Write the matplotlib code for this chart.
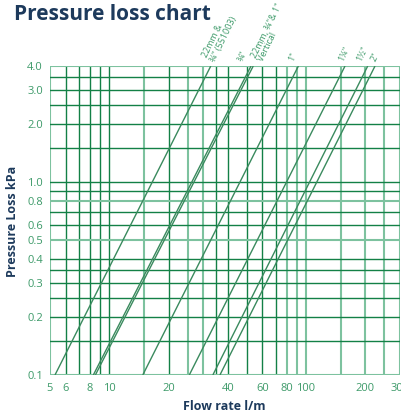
import matplotlib
matplotlib.use('Agg')
import matplotlib.pyplot as plt
import matplotlib.transforms as mtrans
from matplotlib.ticker import FixedLocator, FixedFormatter, NullLocator

# ---- data ----
series_labels = ['22mm &\n¾" (551003)', '¾"', '22mm, ¾"& 1"\nVertical',
                 '1"', '1¼"', '1½"', '2"']
flow_at_low = [5.3, 8.3, 8.5, 14.8, 25.5, 33.6, 36.5]          # l/m at 0.1 kPa
flow_at_high = [32.8, 52.5, 53.9, 91.4, 157.7, 205.7, 224.0]   # l/m at 4.0 kPa
pressure_ends = [0.1, 4.0]

x_ticks = [5, 6, 8, 10, 20, 40, 60, 80, 100, 200, 300]
x_tick_labels = ['5', '6', '8', '10', '20', '40', '60', '80', '100', '200', '300']
y_ticks = [0.1, 0.2, 0.3, 0.4, 0.5, 0.6, 0.8, 1.0, 2.0, 3.0, 4.0]
y_tick_labels = ['0.1', '0.2', '0.3', '0.4', '0.5', '0.6', '0.8', '1.0', '2.0', '3.0', '4.0']

x_grid_dark = [6, 7, 8, 9, 10, 20, 35, 40, 50, 60, 70]
x_grid_light = [5, 15, 25, 30, 80, 90, 100, 150, 200, 250, 300]
y_grid_dark = [0.15, 0.2, 0.25, 0.3, 0.35, 0.4, 0.6, 0.7, 0.9, 1.0, 1.5, 2.0, 2.5, 3.0, 3.5]
y_grid_light = [0.1, 0.5, 0.8, 4.0]

# ---- style ----
NAVY = '#1d3a5c'
TICK_GREEN = '#3d9a69'
GRID_DARK = '#138046'
GRID_LIGHT = '#7dc29f'
LINE_COL = '#3a8a5e'
label_dx_px = [6, -6, 12, -3, 0, -5, 2]

plt.rcParams['font.family'] = ['Open Sans', 'DejaVu Sans']

fig = plt.figure(figsize=(4.02, 4.16), dpi=100)
ax = fig.add_axes([50/402, 1-375/416, 350/402, 309/416])
ax.set_xscale('log')
ax.set_yscale('log')
ax.set_xlim(5, 300)
ax.set_ylim(0.1, 4.0)

for v in x_grid_dark:
    ax.axvline(v, color=GRID_DARK, lw=1.0, zorder=1)
for v in x_grid_light:
    ax.axvline(v, color=GRID_LIGHT, lw=1.5, zorder=1)
for v in y_grid_dark:
    ax.axhline(v, color=GRID_DARK, lw=1.0, zorder=1)
for v in y_grid_light:
    ax.axhline(v, color=GRID_LIGHT, lw=1.5, zorder=1)

for lo, hi in zip(flow_at_low, flow_at_high):
    ax.plot([lo, hi], pressure_ends, color=LINE_COL, lw=1.0, zorder=3,
            solid_capstyle='butt')

for s in ax.spines.values():
    s.set_visible(False)

ax.xaxis.set_major_locator(FixedLocator(x_ticks))
ax.xaxis.set_major_formatter(FixedFormatter(x_tick_labels))
ax.xaxis.set_minor_locator(NullLocator())
ax.yaxis.set_major_locator(FixedLocator(y_ticks))
ax.yaxis.set_major_formatter(FixedFormatter(y_tick_labels))
ax.yaxis.set_minor_locator(NullLocator())
ax.tick_params(axis='both', length=0, labelsize=8, labelcolor=TICK_GREEN)
ax.tick_params(axis='x', pad=6)
ax.tick_params(axis='y', pad=5)

blend = mtrans.blended_transform_factory(ax.transData, ax.transAxes)
for lab, hi, dx in zip(series_labels, flow_at_high, label_dx_px):
    tr = mtrans.offset_copy(blend, fig=fig, x=dx, y=3, units='dots')
    ax.text(hi, 1.0, lab, transform=tr, rotation=64, rotation_mode='anchor',
            ha='left', va='bottom', fontsize=6.5, color=TICK_GREEN,
            linespacing=0.95, clip_on=False)

fig.text(14/402, 1-20/416, 'Pressure loss chart', fontsize=15, fontweight='bold',
         color=NAVY, ha='left', va='baseline')
fig.text(12.5/402, 1-221/416, 'Pressure Loss kPa', fontsize=9, fontweight='bold',
         color=NAVY, rotation=90, ha='center', va='center')
fig.text(224/402, 1-406/416, 'Flow rate l/m', fontsize=9, fontweight='bold',
         color=NAVY, ha='center', va='center')

fig.savefig('out.png', dpi=100)
